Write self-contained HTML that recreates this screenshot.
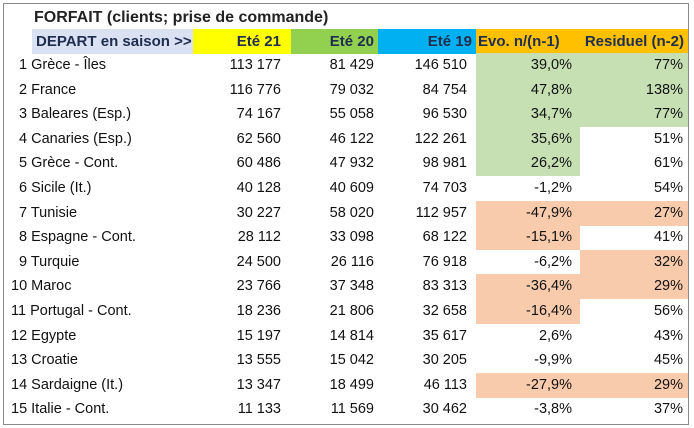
<!DOCTYPE html>
<html><head><meta charset="utf-8"><style>
html,body{margin:0;padding:0;background:#fff;}
body{width:694px;height:428px;position:relative;overflow:hidden;font-family:"Liberation Sans",sans-serif;font-size:14.5px;color:#111;}
#frame{position:absolute;left:3px;top:3px;width:686px;height:422px;border:1px solid #8a8a8a;box-sizing:border-box;}
.c{position:absolute;height:25px;line-height:25px;white-space:nowrap;box-sizing:border-box;}
.r{text-align:right;padding-right:4px;}
.h{font-weight:bold;color:#1f2d4e;font-size:15px;}
</style></head><body>
<div id="frame"></div>
<div class="c h" style="left:34px;top:5px;font-size:16px;color:#222;">FORFAIT (clients; prise de commande)</div>
<div class="c h" style="left:32px;top:29px;width:161px;background:#d9e1f2;padding-left:4px;">DEPART en saison &gt;&gt;</div>
<div class="c h r" style="left:193px;top:29px;width:98px;background:#ffff00;padding-right:10px;">Eté 21</div>
<div class="c h r" style="left:291px;top:29px;width:87px;background:#92d050;">Eté 20</div>
<div class="c h r" style="left:378px;top:29px;width:98px;background:#00b0f0;">Eté 19</div>
<div class="c h" style="left:476px;top:29px;width:212px;background:#ffc000;"></div>
<div class="c h" style="left:478px;top:29px;">Evo. n/(n-1)</div>
<div class="c h r" style="left:580px;top:29px;width:108px;padding-right:4px;">Residuel (n-2)</div>
<div id="rows"></div>
<script>
var d=[
["Grèce - Îles","113 177","81 429","146 510","39,0%","77%","g","g"],
["France","116 776","79 032","84 754","47,8%","138%","g","g"],
["Baleares (Esp.)","74 167","55 058","96 530","34,7%","77%","g","g"],
["Canaries (Esp.)","62 560","46 122","122 261","35,6%","51%","g",""],
["Grèce - Cont.","60 486","47 932","98 981","26,2%","61%","g",""],
["Sicile (It.)","40 128","40 609","74 703","-1,2%","54%","",""],
["Tunisie","30 227","58 020","112 957","-47,9%","27%","s","s"],
["Espagne - Cont.","28 112","33 098","68 122","-15,1%","41%","s",""],
["Turquie","24 500","26 116","76 918","-6,2%","32%","","s"],
["Maroc","23 766","37 348","83 313","-36,4%","29%","s","s"],
["Portugal - Cont.","18 236","21 806","32 658","-16,4%","56%","s",""],
["Egypte","15 197","14 814","35 617","2,6%","43%","",""],
["Croatie","13 555","15 042","30 205","-9,9%","45%","",""],
["Sardaigne (It.)","13 347","18 499","46 113","-27,9%","29%","s","s"],
["Italie - Cont.","11 133","11 569","30 462","-3,8%","37%","",""]];
var col={g:"#c6e0b4",s:"#f8cbad","":"transparent"};
var h="";
d.forEach(function(r,i){
 var t=53+i*24.6;
 h+='<div class="c" style="left:'+(i<9?19:11)+'px;top:'+t+'px;">'+(i+1)+' '+r[0]+'</div>';
 h+='<div class="c r" style="left:193px;top:'+t+'px;width:98px;padding-right:10px;">'+r[1]+'</div>';
 h+='<div class="c r" style="left:291px;top:'+t+'px;width:87px;">'+r[2]+'</div>';
 h+='<div class="c r" style="left:378px;top:'+t+'px;width:98px;padding-right:9px;">'+r[3]+'</div>';
 h+='<div class="c r" style="left:476px;top:'+t+'px;width:104px;background:'+col[r[6]]+';padding-right:8px;">'+r[4]+'</div>';
 h+='<div class="c r" style="left:580px;top:'+t+'px;width:108px;background:'+col[r[7]]+';padding-right:5px;">'+r[5]+'</div>';
});
document.getElementById("rows").innerHTML=h;
</script>
</body></html>
